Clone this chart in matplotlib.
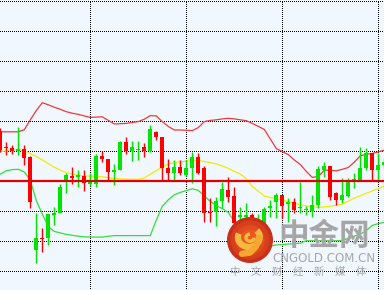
import numpy as np
import matplotlib
matplotlib.use("Agg")
import matplotlib.pyplot as plt
from matplotlib.patches import Circle, Arc

plt.rcParams['font.family'] = ['Noto Sans CJK SC', 'DejaVu Sans']

# K线数据 (开, 高, 低, 收)
opens = [1246.7, 1241.3, 1241.1, 1240.1, 1240.7, 1238.1, 1207.0, 1211.1, 1210.9, 1218.7,
         1219.4, 1230.0, 1231.8, 1231.4, 1231.7, 1229.0, 1229.0, 1238.3, 1237.3, 1233.1,
         1233.7, 1242.9, 1240.1, 1240.3, 1241.2, 1240.1, 1246.2, 1244.8, 1234.2, 1232.6,
         1234.6, 1232.0, 1234.2, 1237.9, 1234.2, 1219.8, 1219.8, 1223.4, 1227.0, 1225.0,
         1218.1, 1218.0, 1218.7, 1216.5, 1214.8, 1220.9, 1223.1, 1225.3, 1222.3, 1223.1,
         1220.9, 1220.3, 1220.1, 1222.0, 1233.7, 1235.0, 1225.9, 1223.7, 1225.1, 1230.0,
         1230.3, 1234.2, 1239.4, 1233.7, 1235.3]
highs = [1247.7, 1243.1, 1242.0, 1248.1, 1242.0, 1238.3, 1219.2, 1214.2, 1218.9, 1221.2,
         1229.0, 1232.6, 1234.6, 1233.7, 1233.7, 1232.6, 1238.9, 1240.0, 1237.3, 1235.7,
         1243.2, 1244.8, 1243.4, 1243.4, 1242.8, 1248.7, 1246.8, 1244.8, 1237.2, 1237.0,
         1237.0, 1237.0, 1239.8, 1239.2, 1235.1, 1224.2, 1224.8, 1229.8, 1231.4, 1227.9,
         1221.4, 1222.6, 1219.3, 1219.0, 1221.4, 1223.7, 1225.9, 1225.3, 1224.2, 1224.2,
         1229.8, 1221.7, 1225.3, 1235.0, 1236.4, 1235.0, 1226.4, 1230.9, 1230.9, 1232.6,
         1241.4, 1240.9, 1239.4, 1239.2, 1237.7]
lows = [1239.7, 1238.7, 1239.0, 1238.7, 1235.3, 1221.1, 1202.8, 1206.4, 1208.7, 1215.3,
        1219.2, 1225.9, 1229.0, 1228.1, 1226.8, 1228.3, 1227.9, 1236.2, 1230.1, 1228.7,
        1233.7, 1239.0, 1236.8, 1237.0, 1238.1, 1239.8, 1243.7, 1230.3, 1230.3, 1230.3,
        1232.0, 1231.7, 1229.2, 1232.4, 1216.4, 1216.4, 1215.0, 1220.9, 1223.1, 1215.3,
        1214.8, 1214.8, 1215.3, 1214.0, 1213.7, 1218.1, 1217.6, 1217.6, 1216.4, 1219.2,
        1219.4, 1218.7, 1218.1, 1220.9, 1231.4, 1223.7, 1222.0, 1222.6, 1224.8, 1227.6,
        1230.3, 1233.7, 1230.3, 1230.3, 1234.3]
closes = [1240.3, 1241.0, 1240.1, 1240.7, 1237.8, 1223.1, 1211.1, 1210.6, 1218.9, 1219.2,
          1227.9, 1232.0, 1231.1, 1232.0, 1229.2, 1229.8, 1238.4, 1237.3, 1233.1, 1233.7,
          1242.9, 1240.1, 1241.4, 1240.7, 1240.1, 1247.3, 1244.8, 1234.2, 1232.8, 1234.6,
          1232.6, 1234.2, 1237.9, 1232.6, 1219.4, 1219.4, 1223.4, 1227.2, 1224.8, 1215.9,
          1218.7, 1218.7, 1217.0, 1217.5, 1220.7, 1221.7, 1225.3, 1221.7, 1223.1, 1220.3,
          1221.4, 1220.6, 1222.0, 1233.9, 1235.0, 1224.8, 1223.7, 1225.3, 1229.8, 1230.7,
          1234.2, 1239.4, 1233.7, 1235.3, 1236.4]

# 布林带
upper_band = [1246.4, 1246.4, 1246.4, 1246.4, 1247.1, 1250.4, 1253.5, 1256.1, 1255.4, 1254.6,
              1253.9, 1253.1, 1252.6, 1252.2, 1251.7, 1251.2, 1251.3, 1251.4, 1250.2, 1249.0,
              1249.1, 1249.2, 1249.5, 1249.8, 1250.6, 1251.8, 1251.7, 1249.8, 1248.2, 1247.0,
              1247.0, 1246.9, 1246.8, 1247.8, 1249.8, 1250.2, 1250.4, 1250.7, 1250.9, 1250.7,
              1250.4, 1250.1, 1249.2, 1248.2, 1247.2, 1244.0, 1240.8, 1239.8, 1238.8, 1237.0,
              1235.5, 1233.2, 1231.2, 1231.5, 1233.6, 1233.6, 1233.4, 1233.9, 1234.5, 1236.3,
              1238.4, 1238.9, 1239.2, 1239.7, 1240.3]
mid_band = [1239.8, 1240.1, 1240.4, 1240.5, 1240.1, 1239.1, 1238.2, 1237.0, 1235.8, 1234.6,
            1233.6, 1232.8, 1232.3, 1231.9, 1231.7, 1231.6, 1231.5, 1231.4, 1231.1, 1230.8,
            1230.7, 1230.6, 1230.6, 1230.6, 1231.0, 1232.3, 1233.5, 1234.6, 1235.7, 1236.1,
            1236.4, 1236.6, 1236.8, 1236.9, 1236.5, 1236.1, 1235.7, 1235.0, 1234.2, 1233.2,
            1232.3, 1230.8, 1228.2, 1226.6, 1225.0, 1224.5, 1224.1, 1223.7, 1223.1, 1222.6,
            1222.0, 1221.7, 1221.4, 1221.2, 1221.4, 1221.6, 1221.9, 1222.3, 1223.3, 1224.3,
            1225.1, 1225.9, 1226.7, 1227.5, 1228.3]
lower_band = [1232.3, 1233.4, 1233.8, 1233.9, 1233.0, 1230.3, 1223.5, 1219.0, 1214.8, 1213.2,
              1212.7, 1212.2, 1211.9, 1211.6, 1211.4, 1211.3, 1211.3, 1211.3, 1211.6, 1211.8,
              1211.8, 1211.8, 1211.8, 1211.8, 1211.8, 1211.8, 1217.0, 1221.6, 1223.7, 1225.4,
              1226.2, 1226.8, 1227.4, 1226.9, 1225.0, 1223.2, 1221.8, 1220.8, 1219.5, 1216.5,
              1214.0, 1211.5, 1208.5, 1207.2, 1207.0, 1208.3, 1208.7, 1208.8, 1209.0, 1209.1,
              1209.3, 1210.1, 1210.1, 1210.1, 1210.1, 1210.1, 1210.1, 1210.2, 1210.9, 1211.6,
              1212.3, 1213.5, 1215.2, 1215.8, 1216.2]
ref_level = 1230

x = np.arange(len(opens))
o = np.array(opens)
c = np.array(closes)
up = c >= o
colors = np.where(up, '#00E400', '#FF0000')

fig = plt.figure(figsize=(3.84, 2.90), dpi=100)
fig.patch.set_facecolor('#F0F7FF')
ax = fig.add_axes([0, 0, 1, 1])
ax.set_facecolor('#F0F7FF')

# 网格
ax.set_xlim(-0.05, 63.95)
ax.set_ylim(1193.67, 1290.33)
ax.set_yticks(np.arange(1200, 1291, 10))
ax.set_xticks([15, 31, 47, 63])
ax.grid(True, color='black', linestyle=(0, (1, 1.2)), linewidth=0.72, antialiased=False)
ax.set_axisbelow(True)
ax.tick_params(length=0, labelbottom=False, labelleft=False)
for s in ax.spines.values():
    s.set_visible(False)

# 布林带
ax.plot(x, upper_band, color='#F03838', lw=0.9, zorder=2)
ax.plot(x, mid_band, color='#F0EC00', lw=0.9, zorder=2)
ax.plot(x, lower_band, color='#38DC38', lw=0.9, zorder=2)

# K线
ax.vlines(x, lows, highs, colors=colors, lw=1.0, zorder=3)
body = np.maximum(np.abs(c - o), 0.4)
ax.bar(x, body, bottom=np.minimum(o, c), width=0.68, color=colors, linewidth=0, zorder=3)

ax.axhline(ref_level, color='#E00000', lw=1.6, zorder=4)

# 水印
fig.text(324 / 384, 1 - 236 / 290, '中金网', fontsize=22, fontweight='bold',
         color='#A6A6A6', ha='center', va='center', zorder=10)
fig.text(324 / 384, 1 - 259 / 290, 'CNGOLD.COM.CN', fontsize=8.5, family=['DejaVu Sans'],
         color='#A6A6A6', ha='center', va='center', zorder=10)
for i, ch in enumerate('中文财经新媒体'):
    fig.text((235 + i * 21) / 384, 1 - 272 / 290, ch, fontsize=7.5,
             color='#A6A6A6', ha='center', va='center', zorder=10)

logo = fig.add_axes([227 / 384, 1 - 263 / 290, 46 / 384, 46 / 290])
logo.set_xlim(-1, 1)
logo.set_ylim(-1, 1)
logo.axis('off')
for r, col in zip([1.0, 0.85, 0.65, 0.45],
                  ['#C8301A', '#D63E1C', '#E04C1E', '#E85820']):
    logo.add_patch(Circle((0, 0), r, color=col, lw=0))
logo.add_patch(Arc((-0.05, 0.12), 0.95, 0.85, theta1=160, theta2=400,
                   color='#F7B840', lw=4.5))
logo.add_patch(Arc((0.0, 0.1), 0.35, 0.3, theta1=90, theta2=360,
                   color='#F7B840', lw=2.5))
logo.plot([0.38, 0.25, 0.0, -0.35], [0.1, -0.3, -0.55, -0.6], color='#F5A830',
          lw=4.5, solid_capstyle='round')

fig.savefig('out.png', dpi=100, facecolor=fig.get_facecolor())
